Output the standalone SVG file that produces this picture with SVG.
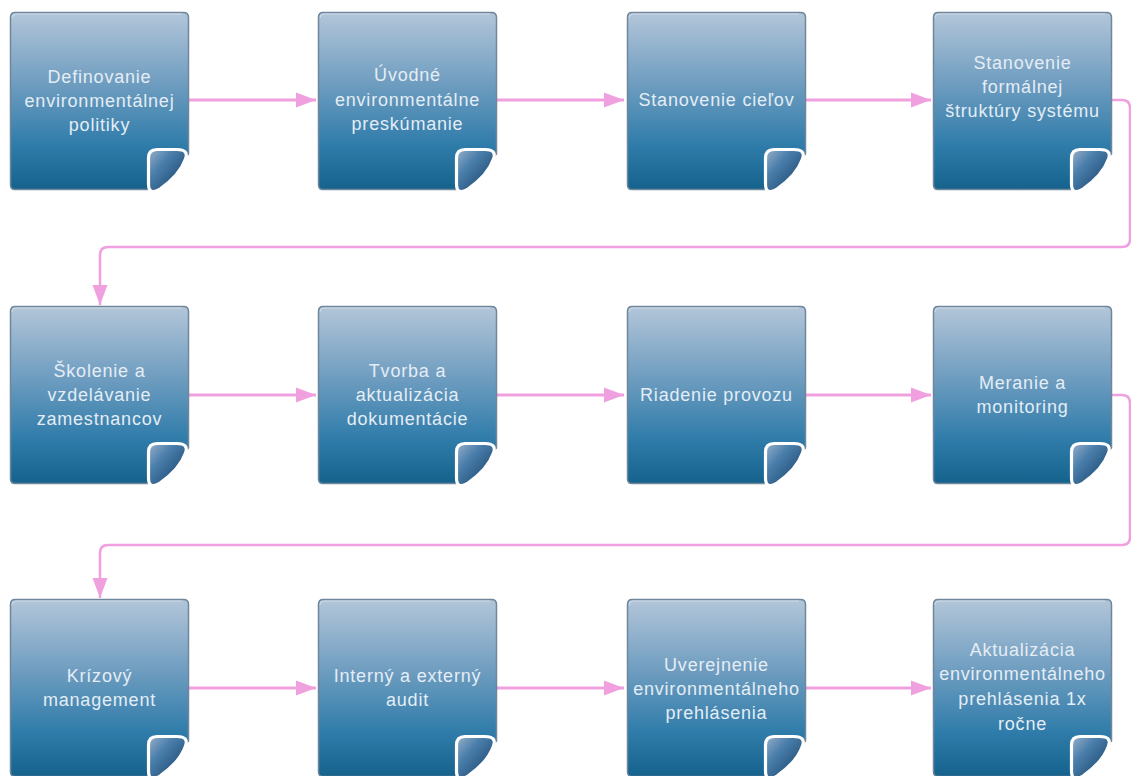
<svg xmlns="http://www.w3.org/2000/svg" xmlns:xlink="http://www.w3.org/1999/xlink" width="1131" height="776" viewBox="0 0 1131 776">
<defs>
<linearGradient id="boxGrad" x1="0" y1="0" x2="0" y2="1">
<stop offset="0" stop-color="#b3c6d9"/>
<stop offset="0.4" stop-color="#6f9dc0"/>
<stop offset="0.75" stop-color="#2f7caa"/>
<stop offset="1" stop-color="#15628d"/>
</linearGradient>
<linearGradient id="foldGrad" x1="0" y1="0" x2="1" y2="1">
<stop offset="0" stop-color="#9ab1ca"/>
<stop offset="0.35" stop-color="#4a7eab"/>
<stop offset="1" stop-color="#113c62"/>
</linearGradient>
<marker id="arrow" markerUnits="userSpaceOnUse" markerWidth="20" markerHeight="16" refX="20" refY="8" orient="auto">
<path d="M0,0.5 L20,8 L0,15.5 Z" fill="#f09fdf"/>
</marker>
<g id="card">
<path d="M5,0.5 H173.5 Q178.5,0.5 178.5,5.5 V142 L142,177.5 H5 Q0.5,177.5 0.5,173 V5.5 Q0.5,0.5 5,0.5 Z" fill="url(#boxGrad)" stroke="#6f869b" stroke-width="1.5"/>
<path d="M2,6 Q2,2 6,2 H172" fill="none" stroke="#dde6ee" stroke-width="1" opacity="0.7"/>
<path d="M138.5,146 Q138.5,137.5 147,137.5 H167 Q179,137.5 175.5,147 Q170,163 150,177 Q138.5,184 138.5,172 Z" fill="url(#foldGrad)" stroke="#ffffff" stroke-width="3.2" stroke-linejoin="round"/>
</g>
<style>
.lbl { font-family: "Liberation Sans", Arial, sans-serif; font-size: 18px; letter-spacing: 0.8px; fill: #e4edf5; text-anchor: middle; }
.conn { fill: none; stroke: #f09fdf; stroke-width: 3; marker-end: url(#arrow); }
.wrap { fill: none; stroke: #f09fdf; stroke-width: 2.5; marker-end: url(#arrow); }
</style>
</defs>
<rect width="1131" height="776" fill="#ffffff"/>

<g id="connectors">
<path class="conn" d="M189,100 H316"/>
<path class="conn" d="M497,100 H624"/>
<path class="conn" d="M806,100 H931"/>
<path class="wrap" d="M1112,100 H1122 Q1130,100 1130,108 V239 Q1130,247 1122,247 H108 Q100,247 100,255 V305"/>
<path class="conn" d="M189,395 H316"/>
<path class="conn" d="M497,395 H624"/>
<path class="conn" d="M806,395 H931"/>
<path class="wrap" d="M1112,395 H1122 Q1130,395 1130,403 V537 Q1130,545 1122,545 H108 Q100,545 100,553 V598"/>
<path class="conn" d="M189,688 H316"/>
<path class="conn" d="M497,688 H624"/>
<path class="conn" d="M806,688 H931"/>
</g>

<g id="n1"><use xlink:href="#card" x="10" y="12"/>
<text class="lbl" x="99.5"><tspan x="99.5" y="83">Definovanie</tspan><tspan x="99.5" y="107">environmentálnej</tspan><tspan x="99.5" y="131">politiky</tspan></text></g>
<g id="n2"><use xlink:href="#card" x="318" y="12"/>
<text class="lbl"><tspan x="407.5" y="81">Úvodné</tspan><tspan x="407.5" y="106">environmentálne</tspan><tspan x="407.5" y="130">preskúmanie</tspan></text></g>
<g id="n3"><use xlink:href="#card" x="627" y="12"/>
<text class="lbl"><tspan x="716.5" y="106">Stanovenie cieľov</tspan></text></g>
<g id="n4"><use xlink:href="#card" x="933" y="12"/>
<text class="lbl"><tspan x="1022.5" y="69">Stanovenie</tspan><tspan x="1022.5" y="93">formálnej</tspan><tspan x="1022.5" y="117">štruktúry systému</tspan></text></g>

<g id="n5"><use xlink:href="#card" x="10" y="306"/>
<text class="lbl"><tspan x="99.5" y="377">Školenie a</tspan><tspan x="99.5" y="401">vzdelávanie</tspan><tspan x="99.5" y="425">zamestnancov</tspan></text></g>
<g id="n6"><use xlink:href="#card" x="318" y="306"/>
<text class="lbl"><tspan x="407.5" y="377">Tvorba a</tspan><tspan x="407.5" y="401">aktualizácia</tspan><tspan x="407.5" y="425">dokumentácie</tspan></text></g>
<g id="n7"><use xlink:href="#card" x="627" y="306"/>
<text class="lbl"><tspan x="716.5" y="401">Riadenie provozu</tspan></text></g>
<g id="n8"><use xlink:href="#card" x="933" y="306"/>
<text class="lbl"><tspan x="1022.5" y="389">Meranie a</tspan><tspan x="1022.5" y="413">monitoring</tspan></text></g>

<g id="n9"><use xlink:href="#card" x="10" y="599"/>
<text class="lbl"><tspan x="99.5" y="682">Krízový</tspan><tspan x="99.5" y="706">management</tspan></text></g>
<g id="n10"><use xlink:href="#card" x="318" y="599"/>
<text class="lbl"><tspan x="407.5" y="682">Interný a externý</tspan><tspan x="407.5" y="706">audit</tspan></text></g>
<g id="n11"><use xlink:href="#card" x="627" y="599"/>
<text class="lbl"><tspan x="716.5" y="671">Uverejnenie</tspan><tspan x="716.5" y="695">environmentálneho</tspan><tspan x="716.5" y="719">prehlásenia</tspan></text></g>
<g id="n12"><use xlink:href="#card" x="933" y="599"/>
<text class="lbl"><tspan x="1022.5" y="656">Aktualizácia</tspan><tspan x="1022.5" y="680">environmentálneho</tspan><tspan x="1022.5" y="705">prehlásenia 1x</tspan><tspan x="1022.5" y="730">ročne</tspan></text></g>
</svg>
